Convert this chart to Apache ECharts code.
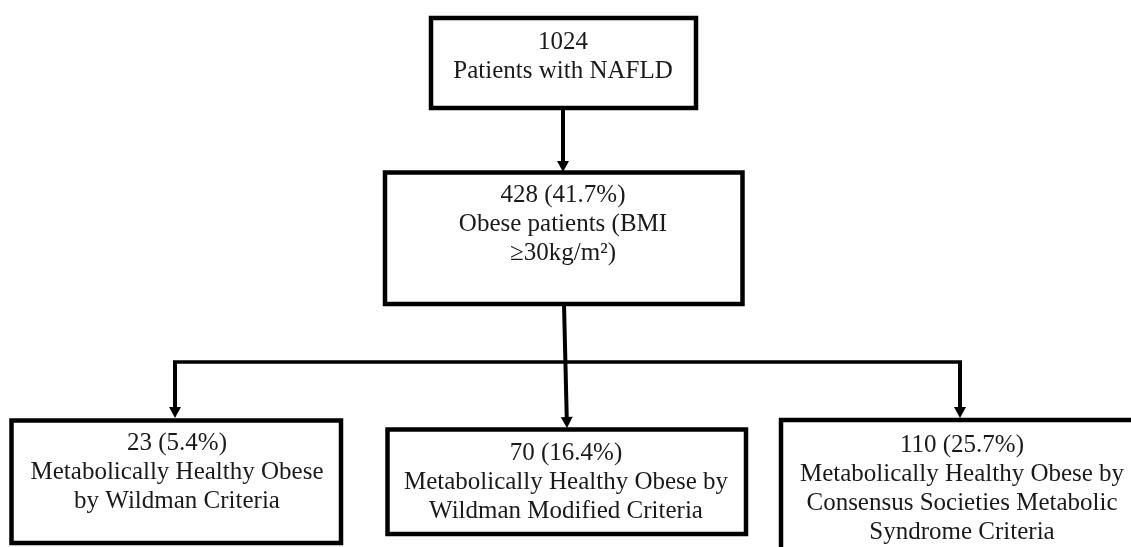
<!DOCTYPE html>
<html>
<head>
<meta charset="utf-8">
<script src="https://cdn.jsdelivr.net/npm/echarts@6/dist/echarts.min.js"></script>
<style>
  html, body { margin: 0; padding: 0; background: #ffffff; }
  #chart { width: 1131px; height: 547px; }
</style>
</head>
<body>
<div id="chart"></div>
<script>
// ---- Data ----
const counts = [1024, 428, 23, 70, 110];
const percents = [null, 41.7, 5.4, 16.4, 25.7];
const descriptions = [
  'Patients with NAFLD',
  'Obese patients (BMI\n≥30kg/m²)',
  'Metabolically Healthy Obese\nby Wildman Criteria',
  'Metabolically Healthy Obese by\nWildman Modified Criteria',
  'Metabolically Healthy Obese by\nConsensus Societies Metabolic\nSyndrome Criteria'
];
const links = [[0, 1], [1, 2], [1, 3], [1, 4]];

// ---- Layout (diagram units mapped through hidden axes) ----
const boxLayout = [
  { x0: 431, y0: 18, x1: 696, y1: 108, tx: 563, ty: 27.5 },
  { x0: 385, y0: 172.5, x1: 742.5, y1: 304, tx: 563, ty: 180.5 },
  { x0: 11.5, y0: 420.5, x1: 341, y1: 543, tx: 177, ty: 428.5 },
  { x0: 387.5, y0: 429.5, x1: 746, y1: 534, tx: 566, ty: 438.5 },
  { x0: 781, y0: 420, x1: 1145, y1: 570, tx: 962, ty: 430.5 }
];
const busY = 362;
const linkLayout = [
  { from: [563, 108], to: [563, 172] },
  { from: [175, busY], to: [175, 418] },
  { from: [564, 304], to: [567, 428] },
  { from: [960, busY], to: [960, 418] }
];
const busLine = { from: [175, busY], to: [960, busY] };

const FONT = '25px "Liberation Serif", "Times New Roman", serif';

function boxText(i) {
  const head = percents[i] == null ? String(counts[i]) : counts[i] + ' (' + percents[i] + '%)';
  return head + '\n' + descriptions[i];
}

const chart = echarts.init(document.getElementById('chart'), null, { renderer: 'canvas' });

function arrowShape(api, from, to) {
  const p0 = api.coord(from);
  const p1 = api.coord(to);
  const dx = p1[0] - p0[0], dy = p1[1] - p0[1];
  const len = Math.sqrt(dx * dx + dy * dy);
  const ux = dx / len, uy = dy / len;
  const headLen = 11, headW = 6;
  const bx = p1[0] - ux * headLen, by = p1[1] - uy * headLen;
  return [
    {
      type: 'line',
      shape: { x1: p0[0], y1: p0[1], x2: bx + ux, y2: by + uy },
      style: { stroke: '#000', lineWidth: 4 }
    },
    {
      type: 'polygon',
      shape: { points: [p1, [bx - uy * headW, by + ux * headW], [bx + uy * headW, by - ux * headW]] },
      style: { fill: '#000' }
    }
  ];
}

const option = {
  animation: false,
  backgroundColor: '#ffffff',
  grid: { left: 0, right: 0, top: 0, bottom: 0 },
  xAxis: { type: 'value', min: 0, max: 1131, show: false },
  yAxis: { type: 'value', min: 0, max: 547, inverse: true, show: false },
  series: [
    {
      type: 'custom',
      coordinateSystem: 'cartesian2d',
      data: links.map((l, i) => [i]),
      silent: true,
      renderItem: function (params, api) {
        const i = api.value(0);
        const L = linkLayout[i];
        const children = arrowShape(api, L.from, L.to);
        if (i === 1) {
          const a = api.coord(busLine.from), b = api.coord(busLine.to);
          children.push({
            type: 'line',
            shape: { x1: a[0] - 2, y1: a[1], x2: b[0] + 2, y2: b[1] },
            style: { stroke: '#000', lineWidth: 3.5 }
          });
        }
        return { type: 'group', children: children };
      }
    },
    {
      type: 'custom',
      coordinateSystem: 'cartesian2d',
      data: counts.map((c, i) => [i, c]),
      silent: true,
      renderItem: function (params, api) {
        const i = api.value(0);
        const B = boxLayout[i];
        const p0 = api.coord([B.x0, B.y0]);
        const p1 = api.coord([B.x1, B.y1]);
        const t = api.coord([B.tx, B.ty]);
        return {
          type: 'group',
          children: [
            {
              type: 'rect',
              shape: { x: p0[0], y: p0[1], width: p1[0] - p0[0], height: p1[1] - p0[1] },
              style: { fill: '#fff', stroke: '#000', lineWidth: 4.5, lineJoin: 'miter' }
            },
            {
              type: 'text',
              style: {
                text: boxText(i),
                x: t[0], y: t[1],
                align: 'center', verticalAlign: 'top',
                font: FONT, lineHeight: 29, fill: '#1a1a1a'
              }
            }
          ]
        };
      }
    }
  ]
};
chart.setOption(option);
</script>
</body>
</html>
